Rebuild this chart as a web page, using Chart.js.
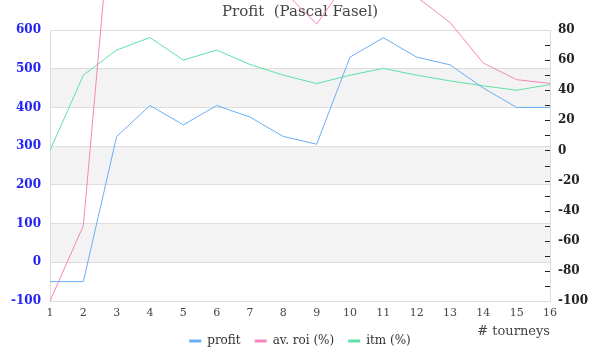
<!DOCTYPE html>
<html lang="en">
<head>
<meta charset="UTF-8">
<title>Profit (Pascal Fasel)</title>
<script src="https://cdn.jsdelivr.net/npm/chart.js@4.4.1/dist/chart.umd.min.js"></script>
<style>
  body { margin: 0; background: #fff; }
  #wrap { width: 600px; height: 360px; }
</style>
</head>
<body>
<div id="wrap"><canvas id="profitChart"></canvas></div>
<script>
  // data
  const tourneys = ['1', '2', '3', '4', '5', '6', '7', '8', '9', '10', '11', '12', '13', '14', '15', '16'];
  const profit = [-50, -50, 325, 405, 355, 405, 375, 325, 305, 530, 580, 530, 510, 450, 400, 400];
  const avRoi = [-100, -50, 200, 200, 145, 135, 112, 106, 84, 115, 110, 102, 85, 58, 47, 44.5];
  const itm = [0, 50, 66.7, 75, 60, 66.7, 57.1, 50, 44.4, 50, 54.5, 50, 46.2, 42.9, 40, 43.75];

  // shaded bands on the left axis
  const bands = [[400, 500], [200, 300], [0, 100]];

  const FONT = "'DejaVu Serif', Georgia, serif";

  // grey bands behind the grid
  const bandPlugin = {
    id: 'bands',
    beforeDraw(chart) {
      const { ctx, chartArea, scales } = chart;
      ctx.save();
      ctx.fillStyle = '#f3f3f3';
      bands.forEach(b => {
        const y1 = scales.y.getPixelForValue(b[1]);
        const y2 = scales.y.getPixelForValue(b[0]);
        ctx.fillRect(chartArea.left, y1, chartArea.right - chartArea.left, y2 - y1);
      });
      ctx.restore();
    }
  };

  // little tick marks inside the right border, every 10
  const rightTickPlugin = {
    id: 'rightTicks',
    afterDatasetsDraw(chart) {
      const { ctx, chartArea, scales } = chart;
      ctx.save();
      ctx.strokeStyle = '#222';
      ctx.lineWidth = 1;
      for (let v = -90; v <= 70; v += 10) {
        const y = Math.round(scales.y1.getPixelForValue(v)) + 0.5;
        ctx.beginPath();
        ctx.moveTo(chartArea.right - 5, y);
        ctx.lineTo(chartArea.right, y);
        ctx.stroke();
      }
      ctx.restore();
    }
  };

  const ctx = document.getElementById('profitChart').getContext('2d');
  const myChart = new Chart(ctx, {
    type: 'line',
    data: {
      labels: tourneys,
      datasets: [{
        label: 'profit',
        data: profit,
        yAxisID: 'y',
        borderColor: '#6aaef4',
        backgroundColor: '#6aaef4',
        borderWidth: 1,
        pointRadius: 0
      }, {
        label: 'av. roi (%)',
        data: avRoi,
        yAxisID: 'y1',
        borderColor: '#f485bf',
        backgroundColor: '#f485bf',
        borderWidth: 1,
        pointRadius: 0,
        clip: false
      }, {
        label: 'itm (%)',
        data: itm,
        yAxisID: 'y1',
        borderColor: '#5fe0a6',
        backgroundColor: '#5fe0a6',
        borderWidth: 1,
        pointRadius: 0
      }]
    },
    options: {
      responsive: true,
      maintainAspectRatio: false,
      animation: false,
      layout: { padding: { left: 0, right: 0, top: 0, bottom: 3 } },
      plugins: {
        title: {
          display: true,
          text: 'Profit  (Pascal Fasel)',
          color: '#444',
          font: { family: FONT, size: 15, weight: 'normal' },
          padding: { top: 3, bottom: 9 }
        },
        legend: {
          position: 'bottom',
          labels: {
            usePointStyle: true,
            pointStyle: 'line',
            pointStyleWidth: 12,
            padding: 14,
            color: '#333',
            font: { family: FONT, size: 12 },
            generateLabels(chart) {
              const items = Chart.defaults.plugins.legend.labels.generateLabels(chart);
              items.forEach(it => { it.lineWidth = 3; it.pointStyle = 'line'; });
              return items;
            }
          }
        },
        tooltip: { enabled: false }
      },
      scales: {
        x: {
          offset: false,
          grid: { display: false, drawTicks: false },
          border: { display: false },
          ticks: { color: '#444', font: { family: FONT, size: 11 }, padding: 6, maxRotation: 0 },
          title: {
            display: true,
            text: '# tourneys',
            align: 'end',
            color: '#444',
            font: { family: FONT, size: 13 },
            padding: { top: -2, bottom: -18.8 }
          }
        },
        y: {
          position: 'left',
          min: -100,
          max: 600,
          ticks: { stepSize: 100, color: '#2323f5', font: { family: FONT, size: 12, weight: 'bold' }, padding: 9 },
          grid: { color: '#dddddd', drawTicks: false },
          border: { color: '#dddddd' },
          afterFit(scale) { scale.width = 50; }
        },
        y1: {
          position: 'right',
          min: -100,
          max: 80,
          ticks: { stepSize: 20, color: '#222', font: { family: FONT, size: 12, weight: 'bold' }, padding: 8 },
          grid: { drawOnChartArea: false, drawTicks: false },
          border: { color: '#dddddd' },
          afterFit(scale) { scale.width = 50; }
        }
      }
    },
    plugins: [bandPlugin, rightTickPlugin]
  });
</script>
</body>
</html>
